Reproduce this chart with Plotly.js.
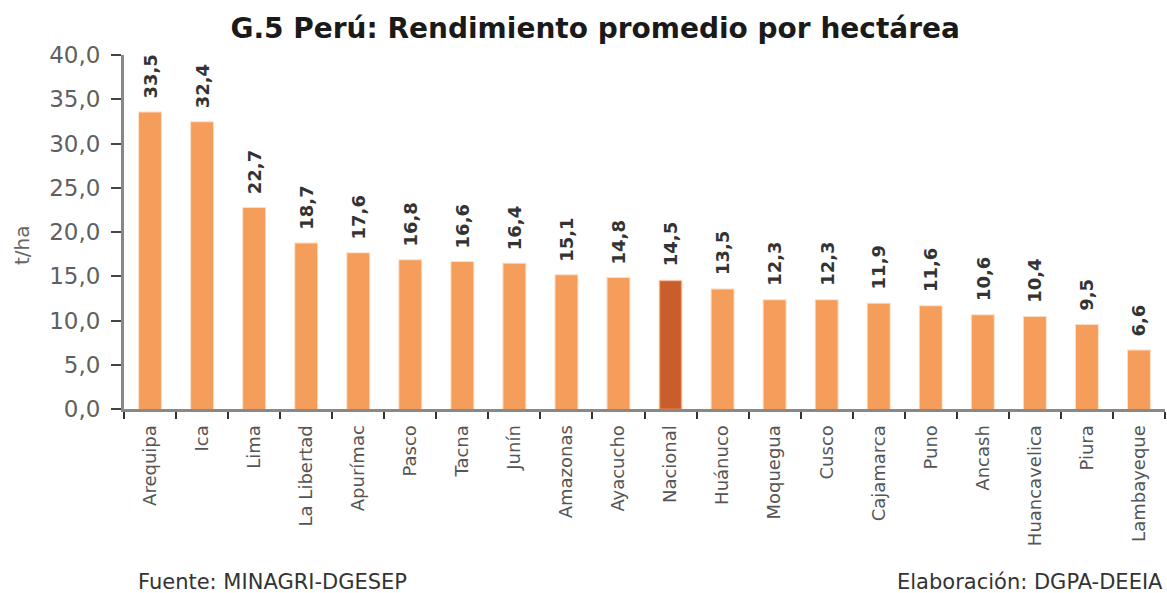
<!DOCTYPE html>
<html><head><meta charset="utf-8">
<script src="https://cdn.plot.ly/plotly-3.0.1.min.js"></script>
<style>html,body{margin:0;padding:0;background:#fff;}#chart{width:1167px;height:593px;}</style>
</head><body><div id="chart"></div>
<script>
const categories = ["Arequipa","Ica","Lima","La Libertad","Apurímac","Pasco","Tacna","Junín","Amazonas","Ayacucho","Nacional","Huánuco","Moquegua","Cusco","Cajamarca","Puno","Ancash","Huancavelica","Piura","Lambayeque"];
const values = [33.5,32.4,22.7,18.7,17.6,16.8,16.6,16.4,15.1,14.8,14.5,13.5,12.3,12.3,11.9,11.6,10.6,10.4,9.5,6.6];
const yTicks = [0,5,10,15,20,25,30,35,40];

const barColor = "#F59D5A", natColor = "#C95D2B";
const colors = categories.map(c => c === "Nacional" ? natColor : barColor);
const labels = values.map(v => v.toFixed(1).replace(".", ","));
const F = "DejaVu Sans, sans-serif";

const trace = {
  type: "bar", x: categories, y: values, width: 0.42,
  marker: {color: colors, line: {color: "rgba(245,157,90,0.35)", width: 2}},
  hoverinfo: "skip"
};
const annotations = categories.map((c, i) => ({
  x: c, y: values[i], xref: "x", yref: "y", text: "<b>" + labels[i] + "</b>", showarrow: false,
  textangle: -90, yanchor: "bottom", xanchor: "center", yshift: 12,
  font: {family: F, size: 18, color: "#333"}
}));
annotations.push({text: "t/ha", xref: "paper", yref: "paper", x: -0.098, y: 0.463, xanchor: "center", yanchor: "middle", textangle: -90, showarrow: false, font: {family: F, size: 20, color: "#666"}});
annotations.push({text: "Fuente: MINAGRI-DGESEP", xref: "paper", yref: "paper", x: 0.012, y: -0.49, xanchor: "left", yanchor: "middle", showarrow: false, font: {family: F, size: 21, color: "#333"}});
annotations.push({text: "Elaboración: DGPA-DEEIA", xref: "paper", yref: "paper", x: 1.0, y: -0.49, xanchor: "right", yanchor: "middle", showarrow: false, font: {family: F, size: 21, color: "#333"}});

const layout = {
  width: 1167, height: 593,
  margin: {l: 124, r: 2, t: 55, b: 184},
  paper_bgcolor: "#fff", plot_bgcolor: "#fff",
  separators: ", ",
  showlegend: false,
  title: {text: "<b>G.5 Perú: Rendimiento promedio por hectárea</b>", x: 0.51, xanchor: "center", y: 0.952, yanchor: "middle",
    font: {family: F, size: 28, color: "#1a1a1a"}},
  xaxis: {
    type: "category", tickson: "boundaries", ticks: "outside", ticklen: 7, tickwidth: 2, tickcolor: "#333",
    showline: true, linecolor: "#888", linewidth: 3, tickangle: -90, ticklabelstandoff: 6,
    tickfont: {family: F, size: 18, color: "#555"},
    showgrid: false, zeroline: false, range: [-0.5, 19.5]
  },
  yaxis: {
    range: [0, 40], tickvals: yTicks, tickformat: ".1f", ticks: "outside", ticklen: 10, tickwidth: 2, tickcolor: "#444",
    showline: true, linecolor: "#888", linewidth: 3, showgrid: false, zeroline: false, ticklabelstandoff: 6,
    tickfont: {family: F, size: 23, color: "#5f5f5f"}
  },
  annotations: annotations
};
Plotly.newPlot("chart", [trace], layout, {displayModeBar: false, staticPlot: true});
</script></body></html>
